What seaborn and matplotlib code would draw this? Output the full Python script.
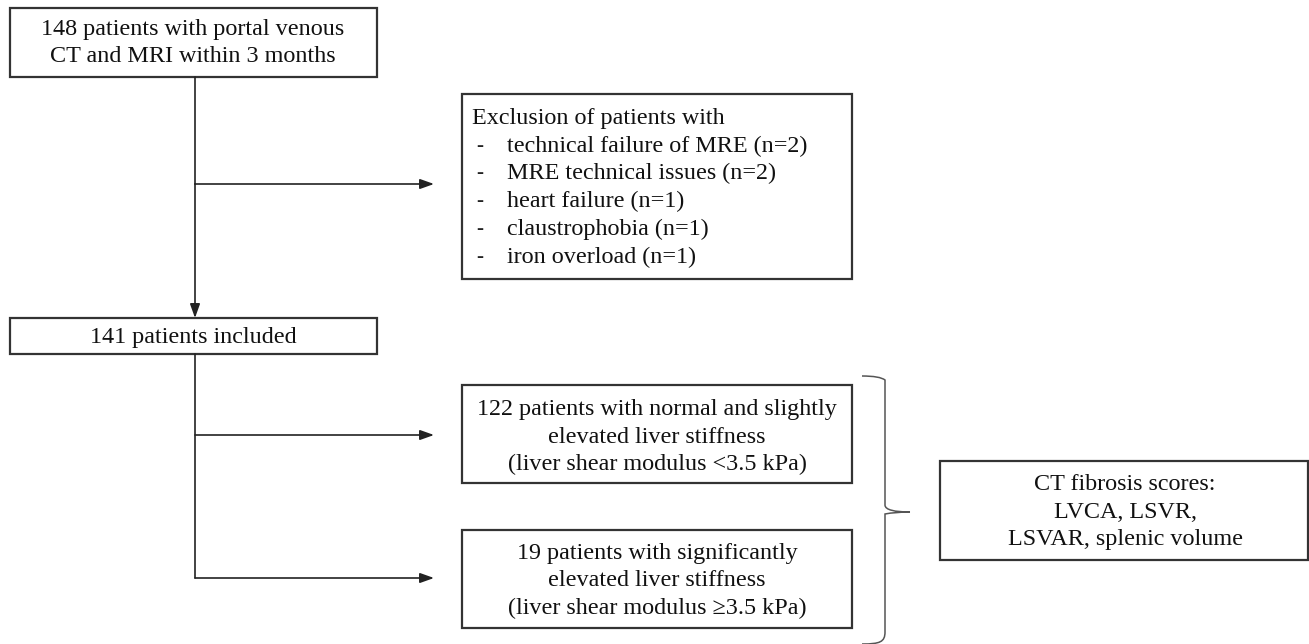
import matplotlib
matplotlib.use('Agg')
import matplotlib.pyplot as plt
from matplotlib.patches import Rectangle
from matplotlib.path import Path
from matplotlib.patches import PathPatch
import seaborn as sns

# box texts
start_text = ['148 patients with portal venous', 'CT and MRI within 3 months']
excl_title = 'Exclusion of patients with'
excl_items = ['technical failure of MRE (n=2)', 'MRE technical issues (n=2)', 'heart failure (n=1)',
              'claustrophobia (n=1)', 'iron overload (n=1)']
included_text = ['141 patients included']
low_text = ['122 patients with normal and slightly', 'elevated liver stiffness', '(liver shear modulus <3.5 kPa)']
high_text = ['19 patients with significantly', 'elevated liver stiffness', '(liver shear modulus \u22653.5 kPa)']
scores_text = ['CT fibrosis scores:', 'LVCA, LSVR,', 'LSVAR, splenic volume']

sns.set_theme(style='white')
plt.rcParams['font.family'] = ['Liberation Serif', 'DejaVu Serif']

fig = plt.figure(figsize=(13.09, 6.44), dpi=100)
ax = fig.add_axes([0, 0, 1, 1])
ax.set_xlim(0, 1309)
ax.set_ylim(644, 0)
ax.axis('off')

FS = 17.4
LINE = 27.5
EDGE = '#333333'


def box(x0, y0, x1, y1):
    ax.add_patch(Rectangle((x0, y0), x1 - x0, y1 - y0, fill=False, ec=EDGE, lw=1.6))


def centered(lines, xc, yc):
    n = len(lines)
    for i, t in enumerate(lines):
        y = yc + (i - (n - 1) / 2) * LINE
        ax.text(xc, y, t, ha='center', va='center', fontsize=FS, color='#111111')


def arrow(x0, y0, x1, y1):
    ax.annotate('', xy=(x1, y1), xytext=(x0, y0),
                arrowprops=dict(arrowstyle='-|>,head_length=0.7,head_width=0.25', color='#222222',
                                lw=1.2, shrinkA=0, shrinkB=0))


# boxes
box(10, 8, 377, 77)
centered(start_text, 193, 43)

box(462, 94, 852, 279)
ax.text(472, 118, excl_title, ha='left', va='center', fontsize=FS, color='#111111')
for i, t in enumerate(excl_items):
    y = 146 + i * 27.8
    ax.text(476, y, '-', ha='left', va='center', fontsize=FS - 2, color='#222222')
    ax.text(507, y, t, ha='left', va='center', fontsize=FS, color='#111111')

box(10, 318, 377, 354)
centered(included_text, 193, 337)

box(462, 385, 852, 483)
centered(low_text, 657, 437)

box(940, 461, 1308, 560)
centered(scores_text, 1125, 512)

box(462, 530, 852, 628)
centered(high_text, 657, 581)

# connectors
ax.plot([195, 195], [77, 184], color='#222222', lw=1.2)
arrow(195, 184, 434, 184)
arrow(195, 184, 195, 318)
ax.plot([195, 195], [354, 578], color='#222222', lw=1.2)
arrow(195, 435, 434, 435)
arrow(195, 578, 434, 578)

# curly brace
verts = [(862, 376), (880, 376), (885, 380), (885, 392),
         (885, 505), (885, 510), (895, 512), (910, 512),
         (895, 512), (885, 514), (885, 520),
         (885, 632), (885, 642), (880, 644), (862, 644)]
codes = [Path.MOVETO, Path.CURVE3, Path.CURVE3, Path.LINETO,
         Path.LINETO, Path.CURVE4, Path.CURVE4, Path.CURVE4,
         Path.CURVE3, Path.CURVE3, Path.LINETO,
         Path.LINETO, Path.CURVE4, Path.CURVE4, Path.CURVE4]
ax.add_patch(PathPatch(Path(verts, codes), fill=False, ec='#555555', lw=1.1))

fig.savefig('out.png', dpi=100, facecolor='white')
